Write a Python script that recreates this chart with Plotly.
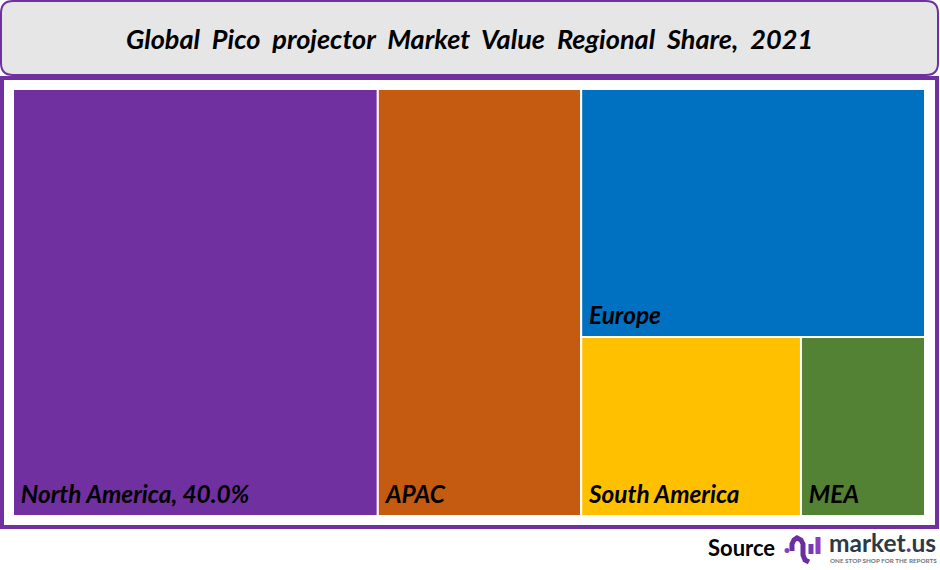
#!/usr/bin/env python3
# -*- coding: utf-8 -*-

import plotly.graph_objects as go

# share values read from the tile areas, the two empty nodes only group the tiles
ids = ["root", "na", "apac", "right", "europe", "lower", "sa", "mea"]
parents = ["", "root", "root", "root", "right", "right", "lower", "lower"]
shares = [100.0, 40.0, 22.3, 37.7, 21.9, 15.8, 10.1, 5.7]
tile_labels = ["", "North America, 40.0%", "APAC", "", "Europe", "", "South America", "MEA"]
tile_colors = ["#ffffff", "#7030a0", "#c55a11", "#ffffff", "#0070c0", "#ffffff", "#ffc000", "#548235"]

W = 940
H = 570
PURPLE = "#7030a0"
FONT = "Lato"


def px(x):
    return x / W


def py(y):
    return 1 - y / H


def rounded_path(x0, y0, x1, y1, r):
    return ("M {a},{b} L {c},{b} Q {d},{b} {d},{e} L {d},{f} Q {d},{g} {c},{g} "
            "L {a},{g} Q {h},{g} {h},{f} L {h},{e} Q {h},{b} {a},{b} Z").format(
        a=px(x0 + r), b=py(y0), c=px(x1 - r), d=px(x1), e=py(y0 + r),
        f=py(y1 - r), g=py(y1), h=px(x0))


def logo_path(cmd):
    return "M " + " L ".join("{},{}".format(px(x), py(y)) for x, y in cmd)


fig = go.Figure(go.Treemap(
    ids=ids,
    parents=parents,
    labels=tile_labels,
    values=shares,
    text=tile_labels,
    branchvalues="total",
    sort=False,
    # small nbsp pads the label from the left, the big one lifts it from the bottom
    texttemplate="<span style='font-size:22px'>\u00a0</span>%{text}"
                 "<span style='font-size:48px'>\u00a0</span>",
    textposition="bottom left",
    textfont=dict(family=FONT, size=24.4, color="black", style="italic", weight="bold"),
    hoverinfo="skip",
    marker=dict(colors=tile_colors,
                line=dict(color="white", width=2),
                pad=dict(t=0, l=0, r=0, b=0)),
    tiling=dict(packing="slice-dice", pad=0),
    pathbar=dict(visible=False),
    domain=dict(x=[px(13), px(925)], y=[py(516), py(89)]),
))

shapes = [
    # title box
    dict(type="path", path=rounded_path(1, 1, 938, 75, 12), fillcolor="#e6e6e6",
         line=dict(color=PURPLE, width=2)),
    # frame around the treemap
    dict(type="rect", x0=px(2), x1=px(937), y0=py(78), y1=py(527), fillcolor="rgba(0,0,0,0)",
         line=dict(color=PURPLE, width=4)),
    # logo mark
    dict(type="circle", x0=px(784.5), x1=px(789.5), y0=py(548), y1=py(553),
         fillcolor="#8a3fc0", line=dict(width=0)),
    dict(type="path",
         path=logo_path([(792, 551), (792, 544), (794, 540), (797, 538), (801, 540),
                         (803, 544), (803, 555), (805, 560), (809, 562)]),
         line=dict(color="#6a2ea0", width=5)),
    dict(type="line", x0=px(811), x1=px(811), y0=py(544), y1=py(554),
         line=dict(color="#7b35b5", width=5)),
    dict(type="line", x0=px(818), x1=px(818), y0=py(537), y1=py(554),
         line=dict(color="#8a3fc0", width=5)),
]

annotations = [
    dict(text="Global  Pico  projector  Market  Value  Regional  Share,  2021",
         x=px(469), y=py(39), xanchor="center", yanchor="middle", showarrow=False,
         font=dict(family=FONT, size=27.1, color="black", style="italic", weight="bold")),
    dict(text="Source", x=px(741), y=py(547), xanchor="center", yanchor="middle", showarrow=False,
         font=dict(family=FONT, size=22, color="black", weight="bold")),
    dict(text="market<span style='color:#7030a0'>.</span>us", x=px(882), y=py(542),
         xanchor="center", yanchor="middle", showarrow=False,
         font=dict(family=FONT, size=24.5, color="#2b3a45", weight="bold")),
    dict(text="ONE STOP SHOP FOR THE REPORTS", x=px(883), y=py(560),
         xanchor="center", yanchor="middle", showarrow=False,
         font=dict(family=FONT, size=6.3, color="#6b7680", weight="bold")),
]

fig.update_layout(
    width=W,
    height=H,
    margin=dict(l=0, r=0, t=0, b=0),
    paper_bgcolor="white",
    shapes=shapes,
    annotations=annotations,
)
# the page's default body margin would push the 940x570 figure out of the window
fig.write_html("out.html",
               config=dict(displayModeBar=False),
               post_script="document.body.style.margin = '0';")
